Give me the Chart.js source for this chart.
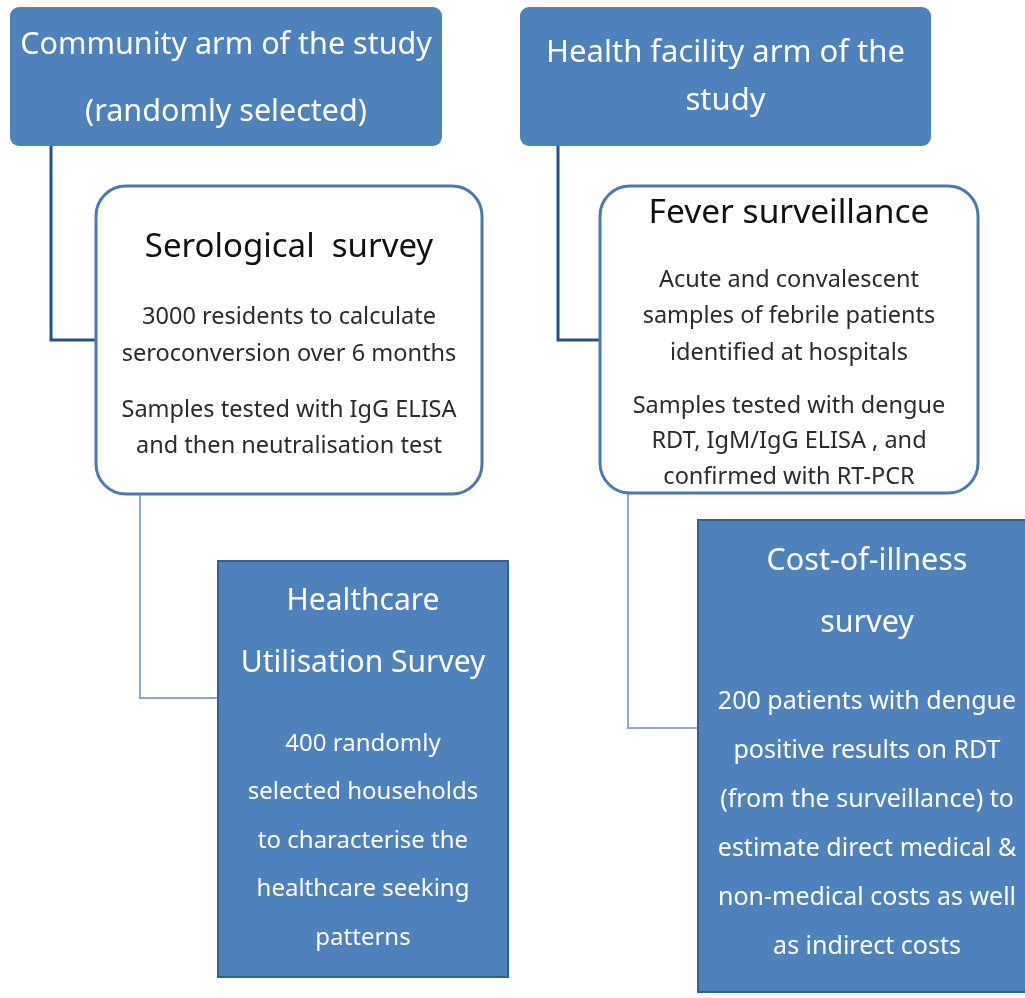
<!DOCTYPE html>
<html>
<head>
<meta charset="utf-8">
<script src="https://cdn.jsdelivr.net/npm/chart.js@4"></script>
<style>
  html, body { margin: 0; padding: 0; background: #ffffff; }
  #wrap { width: 1025px; height: 998px; position: relative; }
</style>
</head>
<body>
<div id="wrap"><canvas id="flowChart"></canvas></div>
<script>
// ---- data: the text of each box ----
const nodeIds = ["community", "facility", "serology", "fever", "utilisation", "costIllness"];

const communityLines = ["Community arm of the study", "(randomly selected)"];
const facilityLines = ["Health facility arm of the", "study"];
const serologyTitle = ["Serological  survey"];
const serologyBody1 = ["3000 residents to calculate", "seroconversion over 6 months"];
const serologyBody2 = ["Samples tested with IgG ELISA", "and then neutralisation test"];
const feverTitle = ["Fever surveillance"];
const feverBody1 = ["Acute and convalescent", "samples of febrile patients", "identified at hospitals"];
const feverBody2 = ["Samples tested with dengue", "RDT, IgM/IgG ELISA , and", "confirmed with RT-PCR"];
const utilisationTitle = ["Healthcare", "Utilisation Survey"];
const utilisationBody = ["400 randomly", "selected households", "to characterise the", "healthcare seeking", "patterns"];
const costTitle = ["Cost-of-illness", "survey"];
const costBody = ["200 patients with dengue", "positive results on RDT", "(from the surveillance) to", "estimate direct medical &", "non-medical costs as well", "as indirect costs"];

// links: parent -> child
const linkFrom = ["community", "facility", "serology", "fever"];
const linkTo = ["serology", "fever", "utilisation", "costIllness"];

// ---- layout (diagram units, same as axis units) ----
const layout = {
  community:   { x0: 10,  x1: 442,  y0: 7,   y1: 146, r: 9,  kind: "head" },
  facility:    { x0: 520, x1: 931,  y0: 7,   y1: 146, r: 9,  kind: "head" },
  serology:    { x0: 96,  x1: 482,  y0: 186, y1: 494, r: 30, kind: "round" },
  fever:       { x0: 600, x1: 978,  y0: 186, y1: 493, r: 30, kind: "round" },
  utilisation: { x0: 218, x1: 508,  y0: 561, y1: 977, r: 0,  kind: "square" },
  costIllness: { x0: 698, x1: 1036, y0: 520, y1: 992, r: 0,  kind: "square" }
};
// where each connector leaves the parent (x) and meets the child (y)
const linkX = [51, 558, 140, 628];
const linkY = [340, 340, 698, 728];
const linkStyle = ["thick", "thick", "thin", "thin"];

const textBlocks = [
  { node: "community", lines: communityLines, size: 30.5, first: 45, step: 67, color: "#ffffff" },
  { node: "facility", lines: facilityLines, size: 31, first: 53, step: 48, color: "#ffffff" },
  { node: "serology", lines: serologyTitle, size: 33, first: 248, step: 0, color: "#111111" },
  { node: "serology", lines: serologyBody1, size: 23.5, first: 317, step: 37, color: "#2b2b2b" },
  { node: "serology", lines: serologyBody2, size: 23.5, first: 410, step: 36, color: "#2b2b2b" },
  { node: "fever", lines: feverTitle, size: 33.5, first: 213, step: 0, color: "#111111" },
  { node: "fever", lines: feverBody1, size: 23.5, first: 280, step: 36.5, color: "#2b2b2b" },
  { node: "fever", lines: feverBody2, size: 23.5, first: 406, step: 35.5, color: "#2b2b2b" },
  { node: "utilisation", lines: utilisationTitle, size: 30, first: 601, step: 62, color: "#ffffff" },
  { node: "utilisation", lines: utilisationBody, size: 24, first: 744, step: 48.5, color: "#ffffff" },
  { node: "costIllness", lines: costTitle, size: 30.5, first: 561, step: 62, color: "#ffffff" },
  { node: "costIllness", lines: costBody, size: 25, first: 702, step: 49, color: "#ffffff" }
];

const FONT = "'Noto Sans', 'Open Sans', sans-serif";
const BLUE = "#4f81bd";

// connectors as line datasets: down from the parent, then right into the child
const linkDatasets = linkFrom.map(function (from, i) {
  const p = layout[from], c = layout[linkTo[i]];
  const thick = linkStyle[i] === "thick";
  return {
    type: "scatter",
    showLine: true,
    data: [
      { x: linkX[i], y: p.y1 },
      { x: linkX[i], y: linkY[i] },
      { x: c.x0, y: linkY[i] }
    ],
    borderColor: thick ? "#26508a" : "#8fa8cc",
    borderWidth: thick ? 3 : 2,
    pointRadius: 0,
    tension: 0
  };
});

function roundRect(ctx, x, y, w, h, r) {
  ctx.beginPath();
  if (r > 0) {
    ctx.moveTo(x + r, y);
    ctx.arcTo(x + w, y, x + w, y + h, r);
    ctx.arcTo(x + w, y + h, x, y + h, r);
    ctx.arcTo(x, y + h, x, y, r);
    ctx.arcTo(x, y, x + w, y, r);
    ctx.closePath();
  } else {
    ctx.rect(x, y, w, h);
  }
}

const boxPlugin = {
  id: "boxes",
  afterDatasetsDraw(chart) {
    const ctx = chart.ctx;
    const xs = chart.scales.x, ys = chart.scales.y;
    ctx.save();
    nodeIds.forEach(function (id) {
      const b = layout[id];
      const x = xs.getPixelForValue(b.x0), y = ys.getPixelForValue(b.y0);
      const w = xs.getPixelForValue(b.x1) - x, h = ys.getPixelForValue(b.y1) - y;
      roundRect(ctx, x, y, w, h, b.r);
      if (b.kind === "round") {
        ctx.fillStyle = "#ffffff";
        ctx.fill();
        ctx.lineWidth = 3;
        ctx.strokeStyle = "#4a78b6";
        ctx.stroke();
      } else {
        ctx.fillStyle = BLUE;
        ctx.fill();
        if (b.kind === "square") {
          ctx.lineWidth = 2;
          ctx.strokeStyle = "#365f91";
          ctx.stroke();
        }
      }
    });
    ctx.textAlign = "center";
    ctx.textBaseline = "middle";
    textBlocks.forEach(function (t) {
      const b = layout[t.node];
      const cx = xs.getPixelForValue((b.x0 + b.x1) / 2);
      ctx.font = t.size + "px " + FONT;
      ctx.fillStyle = t.color;
      t.lines.forEach(function (line, k) {
        ctx.fillText(line, cx, ys.getPixelForValue(t.first + k * t.step));
      });
    });
    ctx.restore();
  }
};

new Chart(document.getElementById("flowChart").getContext("2d"), {
  type: "scatter",
  data: { datasets: linkDatasets },
  options: {
    responsive: true,
    maintainAspectRatio: false,
    animation: false,
    layout: { padding: 0 },
    plugins: { legend: { display: false }, tooltip: { enabled: false } },
    scales: {
      x: { type: "linear", min: 0, max: 1025, display: false },
      y: { type: "linear", min: 0, max: 998, reverse: true, display: false }
    }
  },
  plugins: [boxPlugin]
});
</script>
</body>
</html>
